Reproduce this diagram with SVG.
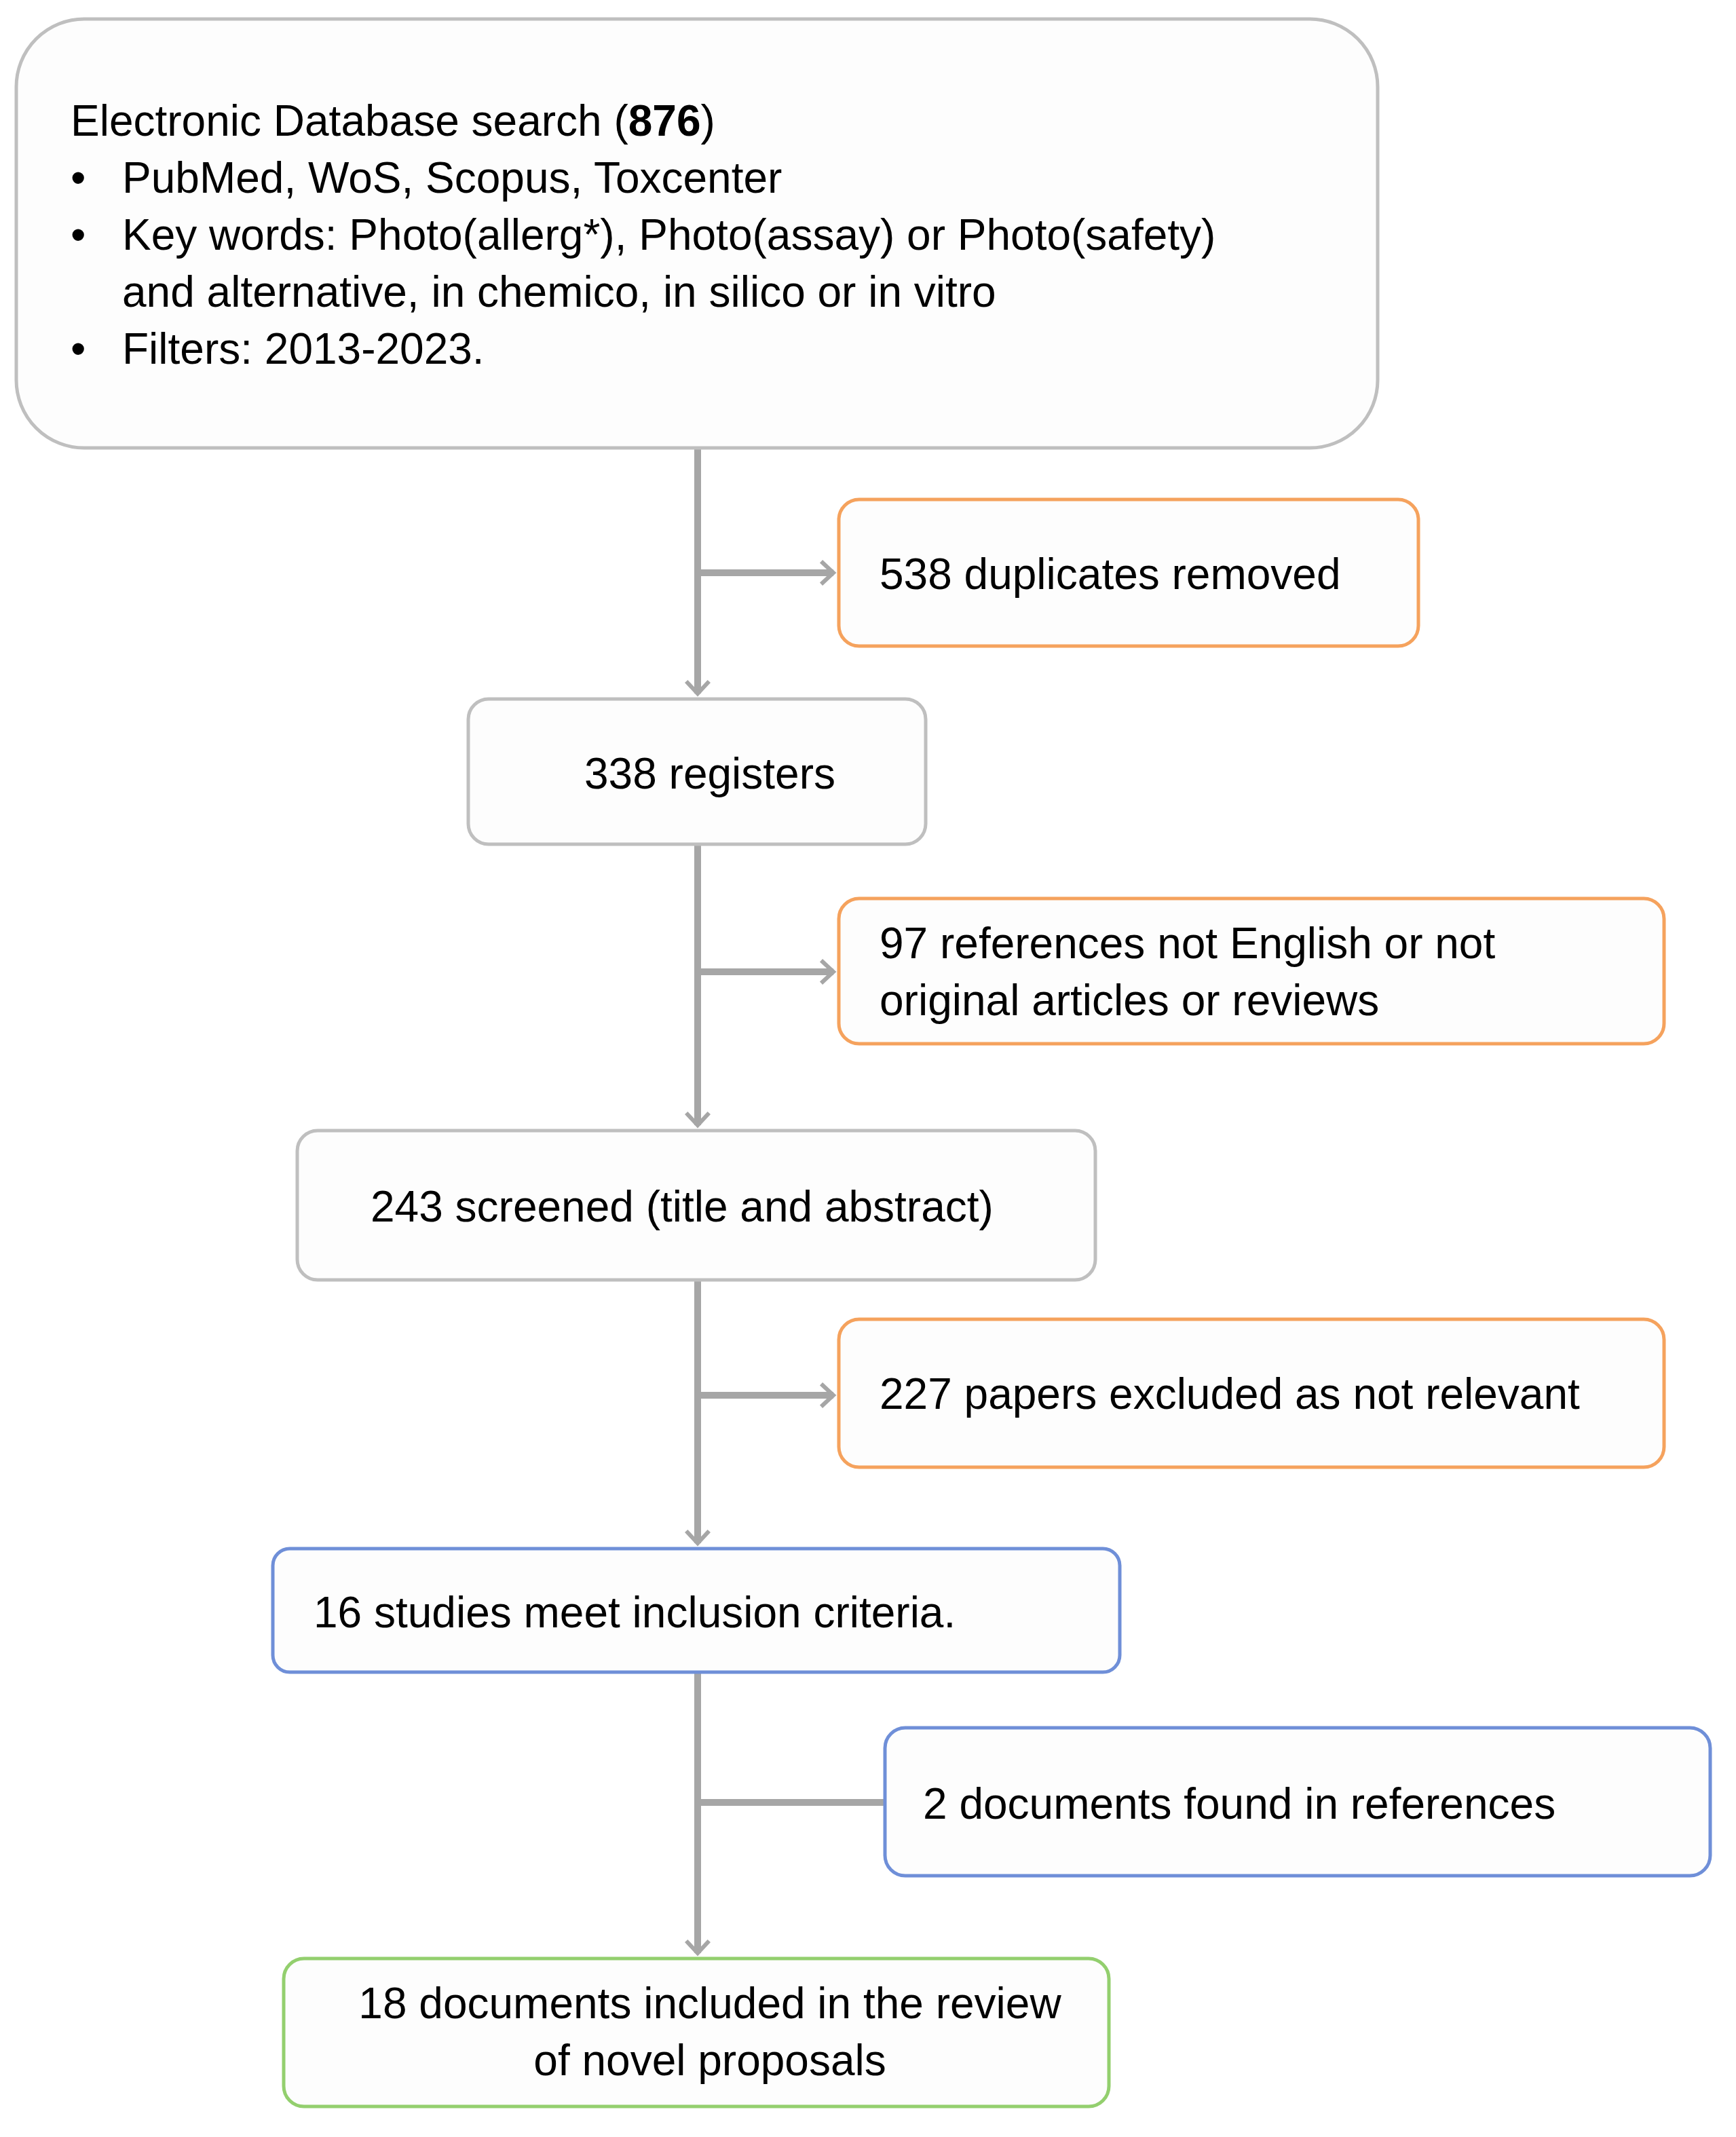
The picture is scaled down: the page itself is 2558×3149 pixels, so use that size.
<svg xmlns="http://www.w3.org/2000/svg" width="2558" height="3149" viewBox="0 0 2558 3149">
<style>
text{font-family:"Liberation Sans",Arial,sans-serif;font-size:64px;fill:#000}
.b{fill:#fdfdfd;stroke-width:5}
.g{stroke:#bfbfbf}.o{stroke:#f5a25d}.bl{stroke:#6f8fd8}.gr{stroke:#93cf6e}
.c{stroke:#a6a6a6;stroke-width:10;fill:none}
</style>
<defs>
<marker id="a" viewBox="0 0 10 10" refX="9" refY="5" markerWidth="6" markerHeight="6" orient="auto" markerUnits="userSpaceOnUse" style="overflow:visible">
<polyline points="-30,-28 0,0 -30,28" transform="translate(9,5)" fill="none" stroke="#a6a6a6" stroke-width="10"/>
</marker>
</defs>
<g id="connectors">
<line class="c" x1="1028" y1="660" x2="1028" y2="1022" marker-end="url(#a)"/>
<line class="c" x1="1028" y1="844" x2="1228" y2="844" marker-end="url(#a)"/>
<line class="c" x1="1028" y1="1244" x2="1028" y2="1658" marker-end="url(#a)"/>
<line class="c" x1="1028" y1="1432" x2="1228" y2="1432" marker-end="url(#a)"/>
<line class="c" x1="1028" y1="1886" x2="1028" y2="2274" marker-end="url(#a)"/>
<line class="c" x1="1028" y1="2056" x2="1228" y2="2056" marker-end="url(#a)"/>
<line class="c" x1="1028" y1="2464" x2="1028" y2="2878" marker-end="url(#a)"/>
<line class="c" x1="1028" y1="2656" x2="1304" y2="2656"/>
</g>
<g id="n1"><rect class="b g" x="24" y="28" width="2006" height="632" rx="100"/>
<text x="104" y="200">Electronic Database search (<tspan font-weight="bold">876</tspan>)</text>
<text x="104" y="284">•</text><text x="180" y="284">PubMed, WoS, Scopus, Toxcenter</text>
<text x="104" y="368">•</text><text x="180" y="368">Key words: Photo(allerg*),  Photo(assay) or Photo(safety)</text>
<text x="180" y="452">and alternative, in chemico, in silico or in vitro</text>
<text x="104" y="536">•</text><text x="180" y="536">Filters: 2013-2023.</text></g>
<g id="n2"><rect class="b o" x="1236" y="736" width="854" height="216" rx="30"/><text x="1296" y="868">538 duplicates removed</text></g>
<g id="n3"><rect class="b g" x="690" y="1030" width="674" height="214" rx="30"/><text x="1046" y="1162" text-anchor="middle">338 registers</text></g>
<g id="n4"><rect class="b o" x="1236" y="1324" width="1216" height="214" rx="30"/><text x="1296" y="1412">97 references not English or not</text><text x="1296" y="1496">original articles or reviews</text></g>
<g id="n5"><rect class="b g" x="438" y="1666" width="1176" height="220" rx="30"/><text x="546" y="1800">243 screened (title and abstract)</text></g>
<g id="n6"><rect class="b o" x="1236" y="1944" width="1216" height="218" rx="30"/><text x="1296" y="2076">227 papers excluded as not relevant</text></g>
<g id="n7"><rect class="b bl" x="402" y="2282" width="1248" height="182" rx="25"/><text x="462" y="2398">16 studies meet inclusion criteria.</text></g>
<g id="n8"><rect class="b bl" x="1304" y="2546" width="1216" height="218" rx="30"/><text x="1360" y="2680">2 documents found in references</text></g>
<g id="n9"><rect class="b gr" x="418" y="2886" width="1216" height="218" rx="30"/><text x="1046" y="2974" text-anchor="middle">18 documents included in the review</text><text x="1046" y="3058" text-anchor="middle">of novel proposals</text></g>
</svg>
